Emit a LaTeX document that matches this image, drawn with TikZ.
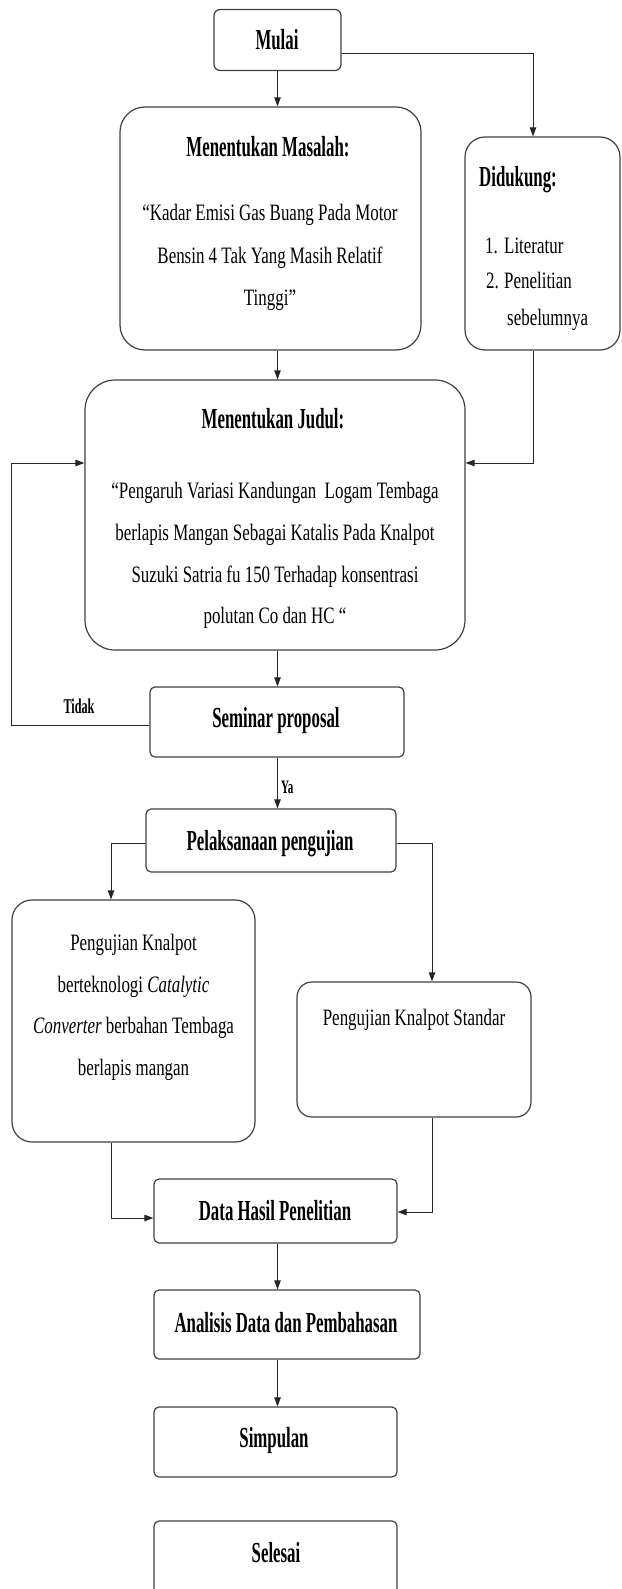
\documentclass[tikz,border=0pt]{standalone}
\usepackage{fontspec}
\setmainfont{Liberation Serif}[FakeStretch=0.72]
\newfontfamily\hdfont{Liberation Serif}[FakeStretch=0.58]
\usetikzlibrary{arrows.meta}
\begin{document}
\begin{tikzpicture}[x=1pt,y=-1pt,
  box/.style={draw=black!75, line width=1.2pt, inner sep=0pt},
  txt/.style={anchor=base, inner sep=0pt, font=\fontsize{23.5}{28}\selectfont},
  hd/.style={anchor=base, inner sep=0pt, font=\hdfont\bfseries\fontsize{29}{34}\selectfont},
  lbl/.style={anchor=base, inner sep=0pt, font=\hdfont\bfseries\fontsize{21}{25}\selectfont},
  arr/.style={draw=black!85, line width=0.9pt, -{Triangle[length=9pt,width=6.5pt]}}]
\useasboundingbox (0,0) rectangle (621,1589);
\clip (0,0) rectangle (621,1589);
% boxes
\node[box, rounded corners=6pt, minimum width=127pt, minimum height=61pt] (mulai) at (277.5,40) {};
\node[box, rounded corners=25pt, minimum width=301pt, minimum height=243pt] (masalah) at (270.5,228.5) {};
\node[box, rounded corners=20pt, minimum width=155pt, minimum height=213pt] (didukung) at (542.5,243.5) {};
\node[box, rounded corners=30pt, minimum width=380pt, minimum height=270pt] (judul) at (275,515) {};
\node[box, rounded corners=5pt, minimum width=254pt, minimum height=70pt] (seminar) at (277,722) {};
\node[box, rounded corners=5pt, minimum width=250pt, minimum height=63pt] (pelaks) at (271,840.5) {};
\node[box, rounded corners=20pt, minimum width=243pt, minimum height=242pt] (kiri) at (133.5,1021) {};
\node[box, rounded corners=15pt, minimum width=234pt, minimum height=135pt] (standar) at (414,1049.5) {};
\node[box, rounded corners=5pt, minimum width=243pt, minimum height=64pt] (data) at (275.5,1211) {};
\node[box, rounded corners=5pt, minimum width=266pt, minimum height=69pt] (analisis) at (287,1324.5) {};
\node[box, rounded corners=5pt, minimum width=243pt, minimum height=70pt] (simpulan) at (275.5,1442) {};
\node[box, rounded corners=5pt, minimum width=243pt, minimum height=80pt] (selesai) at (275.5,1561) {};
% texts
\node[hd] (tmulai) at (277,50) {Mulai};
\node[hd] (tmas) at (268,157) {Menentukan Masalah:};
\node[txt] (tmas1) at (270,221) {“Kadar Emisi Gas Buang Pada Motor};
\node[txt] (tmas2) at (270,263) {Bensin 4 Tak Yang Masih Relatif};
\node[txt] (tmas3) at (270,305) {Tinggi”};
\node[hd, anchor=base west] (tdid) at (479,187) {Didukung:};
\node[txt, anchor=base west] (n1) at (485,254) {1.};
\node[txt, anchor=base west] (l1) at (504,254) {Literatur};
\node[txt, anchor=base west] (n2) at (486,288) {2.};
\node[txt, anchor=base west] (l2) at (504,288) {Penelitian};
\node[txt, anchor=base west] (l3) at (507,325) {sebelumnya};
\node[hd] (tjud) at (273,428) {Menentukan Judul:};
\node[txt] (tj1) at (275,498) {“Pengaruh Variasi Kandungan\ \ Logam Tembaga};
\node[txt] (tj2) at (275,540) {berlapis Mangan Sebagai Katalis Pada Knalpot};
\node[txt] (tj3) at (275,582) {Suzuki Satria fu 150 Terhadap konsentrasi};
\node[txt] (tj4) at (275,623) {polutan Co dan HC “};
\node[hd] (tsem) at (276,727) {Seminar proposal};
\node[lbl] (ttidak) at (79,713) {Tidak};
\node[lbl, anchor=base west, font=\hdfont\bfseries\fontsize{19}{23}\selectfont] (tya) at (281,793) {Ya};
\node[hd] (tpel) at (270,850) {Pelaksanaan pengujian};
\node[txt] (tk1) at (133.5,950) {Pengujian Knalpot};
\node[txt] (tk2) at (133.5,992) {berteknologi \textit{Catalytic}};
\node[txt] (tk3) at (133.5,1033) {\textit{Converter} berbahan Tembaga};
\node[txt] (tk4) at (133.5,1075) {berlapis mangan};
\node[txt] (tstd) at (414,1025) {Pengujian Knalpot Standar};
\node[hd] (tdata) at (275,1220) {Data Hasil Penelitian};
\node[hd] (tana) at (286,1332) {Analisis Data dan Pembahasan};
\node[hd] (tsim) at (274,1447) {Simpulan};
\node[hd] (tsel) at (276,1562) {Selesai};
% connectors
\draw[arr] (mulai.south) -- (mulai.south |- masalah.north);
\draw[arr] ([yshift=-13pt]mulai.east) -| ([xshift=-9.5pt]didukung.north);
\draw[arr] (mulai.south |- masalah.south) -- (mulai.south |- judul.north);
\draw[arr] ([xshift=-9.5pt]didukung.south) |- ([yshift=52pt]judul.east);
\draw[arr] (mulai.south |- judul.south) -- (mulai.south |- seminar.north);
\draw[arr] ([yshift=-3pt]seminar.west) -- ++(-138,0) |- ([yshift=52pt]judul.west);
\draw[arr] (mulai.south |- seminar.south) -- (mulai.south |- pelaks.north);
\draw[arr] ([yshift=-2.5pt]pelaks.west) -| ([xshift=-22.5pt]kiri.north);
\draw[arr] ([yshift=-2.5pt]pelaks.east) -| ([xshift=18pt]standar.north);
\draw[arr] ([xshift=-22.5pt]kiri.south) |- ([yshift=-7pt]data.west);
\draw[arr] ([xshift=18pt]standar.south) |- ([yshift=-1pt]data.east);
\draw[arr] (mulai.south |- data.south) -- (mulai.south |- analisis.north);
\draw[arr] (mulai.south |- analisis.south) -- (mulai.south |- simpulan.north);
\end{tikzpicture}
\end{document}
